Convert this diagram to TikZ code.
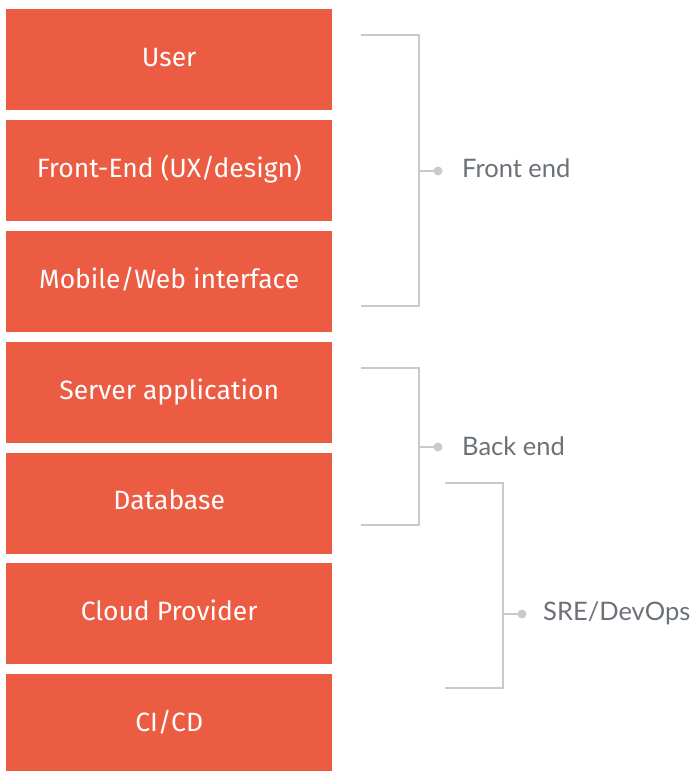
\documentclass[tikz,border=0pt]{standalone}
\usepackage{fontspec}
\setmainfont{Fira Sans}
\newfontfamily\labelfont{Lato}
\definecolor{boxred}{HTML}{EB5C42}
\definecolor{brgray}{HTML}{C9CACD}
\definecolor{lbgray}{HTML}{6B7176}
\tikzset{
  layerbox/.style={fill=boxred, draw=none, minimum width=326pt, minimum height=101pt, anchor=north west, inner sep=0pt, text=white, text height=19pt, text depth=5.7pt, font=\fontsize{26.5}{30}\selectfont},
  bracketline/.style={draw=brgray, line width=2pt},
  grouplabel/.style={anchor=west, text=lbgray, inner sep=0pt, font=\labelfont\fontsize{25.5}{30}\selectfont},
  dotmark/.style={circle, fill=brgray, inner sep=0pt, minimum size=9pt}
}
\begin{document}
\begin{tikzpicture}[x=1pt,y=-1pt]
\useasboundingbox (0,0) rectangle (694,771);
\node[layerbox] (b1) at (6,9) {User};
\node[layerbox] (b2) at (6,120) {Front-End (UX/design)};
\node[layerbox] (b3) at (6,231) {Mobile/Web interface};
\node[layerbox] (b4) at (6,342) {Server application};
\node[layerbox] (b5) at (6,452.5) {Database};
\node[layerbox] (b6) at (6,563) {Cloud Provider};
\node[layerbox] (b7) at (6,674) {CI/CD};
% Front end bracket
\coordinate (f1) at (361,35);
\coordinate (f2) at (361,306);
\draw[bracketline] (f1) -- (419,35) -- (419,306) -- (f2);
\node[dotmark] (fd) at (438,171) {};
\draw[bracketline] (419,171) -- (fd.center);
\node[grouplabel] (fl) at (462,168) {Front end};
% Back end bracket
\coordinate (k1) at (361,368);
\coordinate (k2) at (361,525);
\draw[bracketline] (k1) -- (419,368) -- (419,525) -- (k2);
\node[dotmark] (kd) at (438,447) {};
\draw[bracketline] (419,447) -- (kd.center);
\node[grouplabel] (kl) at (462,446) {Back end};
% SRE bracket
\coordinate (s1) at (445,483);
\coordinate (s2) at (445,688);
\draw[bracketline] (s1) -- (503,483) -- (503,688) -- (s2);
\node[dotmark] (sd) at (522,614) {};
\draw[bracketline] (503,614) -- (sd.center);
\node[grouplabel] (sl) at (543,613) {SRE/DevOps};
\end{tikzpicture}
\end{document}
